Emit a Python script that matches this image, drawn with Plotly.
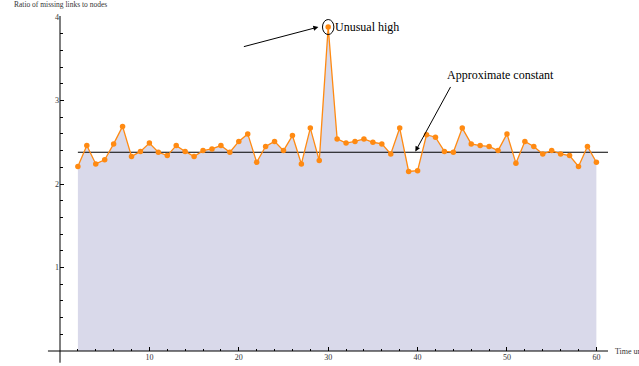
import plotly.graph_objects as go

# Ratio of missing links to nodes, per time unit
time_units = list(range(2, 61))
ratio = [
    2.21, 2.46, 2.24, 2.29, 2.48, 2.69, 2.33, 2.39, 2.49, 2.38,
    2.34, 2.46, 2.39, 2.33, 2.40, 2.42, 2.46, 2.38, 2.51, 2.60,
    2.26, 2.45, 2.51, 2.40, 2.58, 2.24, 2.67, 2.28, 3.88, 2.54,
    2.49, 2.51, 2.54, 2.50, 2.48, 2.36, 2.67, 2.15, 2.16, 2.59,
    2.56, 2.39, 2.38, 2.67, 2.48, 2.46, 2.45, 2.40, 2.60, 2.25,
    2.51, 2.45, 2.36, 2.40, 2.36, 2.34, 2.21, 2.45, 2.26,
]
constant_level = 2.38
peak_time = 30
peak_value = 3.88

x_ticks = [10, 20, 30, 40, 50, 60]
y_ticks = [1, 2, 3, 4]
x_max = 61.3
y_max = 4.012

SERIF = "Liberation Serif, Times New Roman, serif"
ORANGE = "#ff8a12"
FILL = "#d9d9ea"

fig = go.Figure()

# filled area under the series
fig.add_trace(go.Scatter(
    x=time_units, y=ratio, mode="none", fill="tozeroy",
    fillcolor=FILL, hoverinfo="skip", showlegend=False,
))

# approximate constant level
fig.add_trace(go.Scatter(
    x=[time_units[0], x_max], y=[constant_level, constant_level],
    mode="lines", line=dict(color="black", width=1.2),
    hoverinfo="skip", showlegend=False,
))

# the series itself
fig.add_trace(go.Scatter(
    x=time_units, y=ratio, mode="lines+markers",
    line=dict(color=ORANGE, width=1.3),
    marker=dict(color=ORANGE, size=5.5),
    showlegend=False,
))

axis_common = dict(
    showgrid=False, zeroline=False, showline=False, automargin=False,
    ticks="inside", ticklen=4, tickwidth=1, tickcolor="black",
    tickfont=dict(family=SERIF, size=8, color="#333"),
)

fig.update_xaxes(
    range=[0, x_max], tickvals=x_ticks,
    minor=dict(dtick=2, tick0=0, ticks="inside", ticklen=2.5, tickcolor="black"),
    **axis_common,
)
fig.update_yaxes(
    range=[0, y_max], tickvals=y_ticks,
    minor=dict(dtick=0.2, tick0=0, ticks="inside", ticklen=2.5, tickcolor="black"),
    **axis_common,
)

# axes crossing at the origin, extended slightly past it
fig.add_shape(type="line", xref="paper", yref="paper",
              x0=-0.022, x1=1, y0=0, y1=0, line=dict(color="black", width=1))
fig.add_shape(type="line", xref="paper", yref="paper",
              x0=0, x1=0, y0=-0.035, y1=1, line=dict(color="black", width=1))

# circle around the spike
fig.add_shape(type="circle", xref="x", yref="y",
              xsizemode="pixel", ysizemode="pixel",
              xanchor=peak_time, yanchor=peak_value,
              x0=-5.7, x1=5.7, y0=-7.5, y1=7.5,
              line=dict(color="black", width=1))

annotations = [
    dict(text="Ratio of missing links to nodes", xref="paper", yref="paper",
         x=-0.088, y=1.033, xanchor="left", yanchor="middle", showarrow=False,
         font=dict(family=SERIF, size=7.5, color="#333")),
    dict(text="Time units", xref="paper", yref="paper",
         x=1.0097, y=0, xanchor="left", yanchor="middle", showarrow=False,
         font=dict(family=SERIF, size=8, color="#333")),
    dict(text="Unusual high", xref="x", yref="y",
         x=peak_time + 0.5, y=peak_value, xanchor="left", yanchor="middle",
         showarrow=False, font=dict(family=SERIF, size=12, color="black")),
    dict(text="Approximate constant", xref="paper", yref="paper",
         x=(445 - 60) / 547.7, y=(351 - 75) / 335, xanchor="left", yanchor="middle",
         showarrow=False, font=dict(family=SERIF, size=12, color="black")),
    # arrow towards the spike
    dict(text="", xref="x", yref="y", x=28.9, y=peak_value,
         ax=-76, ay=20, showarrow=True, arrowhead=2, arrowsize=1,
         arrowwidth=1, arrowcolor="black"),
    # arrow towards the constant line
    dict(text="", xref="x", yref="y", x=39.75, y=constant_level + 0.01,
         ax=36, ay=-66, showarrow=True, arrowhead=2, arrowsize=1,
         arrowwidth=1, arrowcolor="black"),
]
fig.update_layout(
    annotations=annotations,
    width=639, height=366,
    margin=dict(l=60, r=31, t=16, b=15),
    paper_bgcolor="white", plot_bgcolor="white",
)

fig.write_html("out.html")
